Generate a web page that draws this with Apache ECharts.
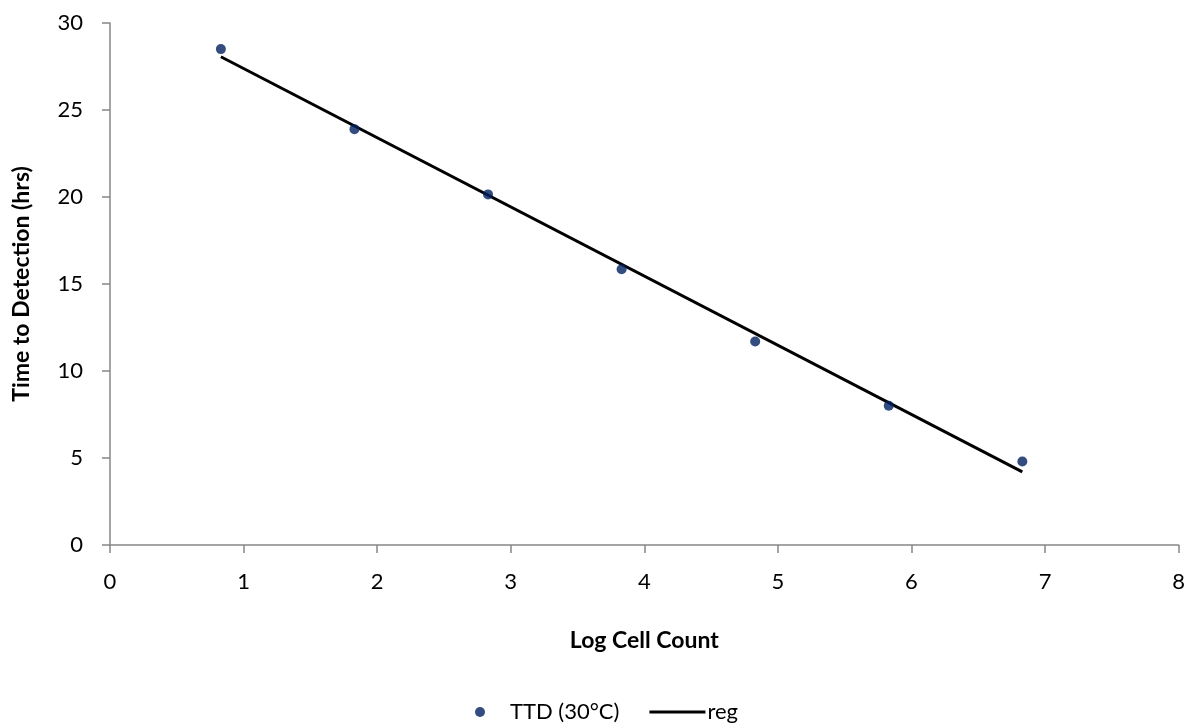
<!DOCTYPE html>
<html>
<head>
<meta charset="utf-8">
<script src="https://cdn.jsdelivr.net/npm/echarts@6/dist/echarts.min.js"></script>
<style>
  html, body { margin: 0; padding: 0; background: #fff; }
  #chart { width: 1188px; height: 724px; }
</style>
</head>
<body>
<div id="chart"></div>
<script>
// Log cell count vs. time to detection at 30°C
const logCellCount = [0.83, 1.83, 2.83, 3.83, 4.83, 5.83, 6.83];
const ttdHours = [28.5, 23.9, 20.15, 15.85, 11.7, 8.0, 4.8];

// Regression line endpoints
const regX = [0.83, 6.83];
const regY = [28.06, 4.2];

const xTicks = [0, 1, 2, 3, 4, 5, 6, 7, 8];
const yTicks = [0, 5, 10, 15, 20, 25, 30];

const font = 'Lato, "Open Sans", "Liberation Sans", sans-serif';
const axisGray = '#868686';

const chart = echarts.init(document.getElementById('chart'), null, { renderer: 'canvas' });

chart.setOption({
  animation: false,
  backgroundColor: '#ffffff',
  textStyle: { fontFamily: font },
  grid: { left: 110, right: 6, top: 23, bottom: 179, containLabel: false },
  legend: {
    bottom: -4,
    left: 470,
    itemGap: 30,
    itemWidth: 56,
    itemHeight: 10,
    textStyle: { fontFamily: font, fontSize: 22, color: '#000', padding: [0, 0, 0, -3] },
    data: [
      { name: 'TTD (30°C)', icon: 'circle', itemStyle: { color: '#002060' } },
      { name: 'reg', icon: 'path://M0,0 L56,0 L56,3 L0,3 Z', itemStyle: { color: '#000' } }
    ]
  },
  xAxis: {
    type: 'value',
    min: xTicks[0],
    max: xTicks[xTicks.length - 1],
    interval: 1,
    name: 'Log Cell Count',
    nameLocation: 'middle',
    nameGap: 84,
    nameTextStyle: { fontFamily: font, fontSize: 23, fontWeight: 'bold', color: '#000' },
    axisLine: { show: true, lineStyle: { color: axisGray, width: 1.5 } },
    axisTick: { show: true, length: 8, lineStyle: { color: axisGray, width: 1.5 } },
    axisLabel: { fontFamily: font, fontSize: 22, color: '#000', margin: 26 },
    splitLine: { show: false }
  },
  yAxis: {
    type: 'value',
    min: yTicks[0],
    max: yTicks[yTicks.length - 1],
    interval: 5,
    name: 'Time to Detection (hrs)',
    nameLocation: 'middle',
    nameRotate: 90,
    nameGap: 77,
    nameTextStyle: { fontFamily: font, fontSize: 23, fontWeight: 'bold', color: '#000' },
    axisLine: { show: true, lineStyle: { color: axisGray, width: 1.5 } },
    axisTick: { show: true, length: 8, lineStyle: { color: axisGray, width: 1.5 } },
    axisLabel: { fontFamily: font, fontSize: 22, color: '#000', margin: 27 },
    splitLine: { show: false }
  },
  series: [
    {
      name: 'reg',
      type: 'line',
      data: regX.map((x, i) => [x, regY[i]]),
      symbol: 'none',
      lineStyle: { color: '#000', width: 3 },
      z: 2
    },
    {
      name: 'TTD (30°C)',
      type: 'scatter',
      data: logCellCount.map((x, i) => [x, ttdHours[i]]),
      symbol: 'circle',
      symbolSize: 10,
      itemStyle: { color: '#002060' },
      z: 3
    }
  ]
});
</script>
</body>
</html>
